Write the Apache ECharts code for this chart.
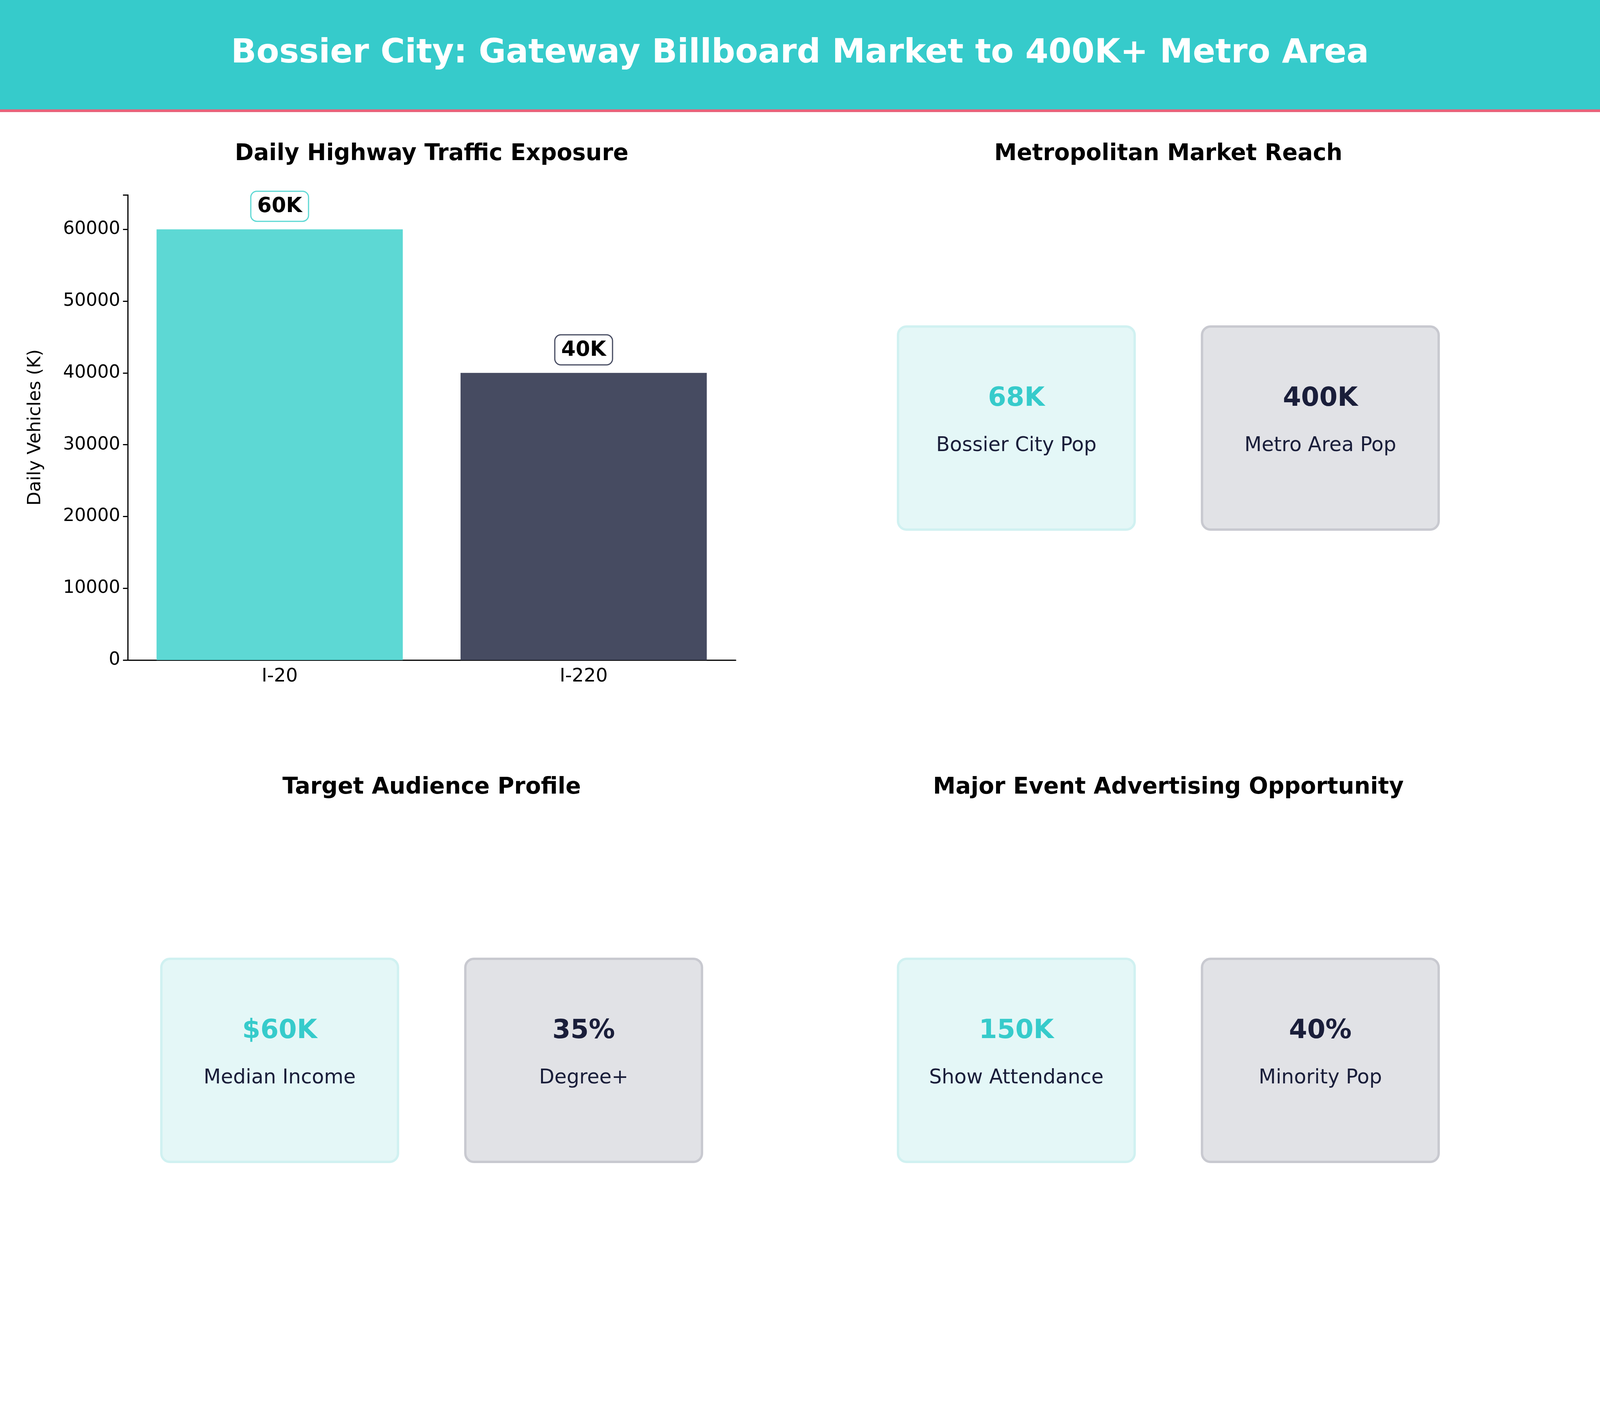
<!DOCTYPE html>
<html><head><meta charset="utf-8">
<script src="https://cdn.jsdelivr.net/npm/echarts@6/dist/echarts.min.js"></script>
<style>html,body{margin:0;padding:0;background:#fff;overflow:hidden}#c{width:100vw;height:100vh}</style>
</head><body><div id="c"></div>
<script>
const mainTitle = 'Bossier City: Gateway Billboard Market to 400K+ Metro Area';
const panelTitles = ['Daily Highway Traffic Exposure','Metropolitan Market Reach','Target Audience Profile','Major Event Advertising Opportunity'];
const highways = ['I-20','I-220'];
const dailyVehicles = [60000, 40000];
const vehicleLabels = ['60K','40K'];
const marketValues = ['68K','400K'];
const marketLabels = ['Bossier City Pop','Metro Area Pop'];
const audienceValues = ['$60K','35%'];
const audienceLabels = ['Median Income','Degree+'];
const eventValues = ['150K','40%'];
const eventLabels = ['Show Attendance','Minority Pop'];

const TEAL='#36CBCB', NAVY='#1A1E3A', BAR1='#5DD8D4', BAR2='#464B61';
const FONT='DejaVu Sans';
const chart = echarts.init(document.getElementById('c'), null, {renderer:'canvas'});
const W = chart.getWidth(), H = chart.getHeight();
const sx = W/4800, sy = H/3600, s = Math.min(sx, sy);
const X = v=>v*sx, Y = v=>v*sy, F = v=>Math.round(v*s);

function cards(values, labels, xs, yTop){
  const els=[];
  values.forEach((v,i)=>{
    const teal = i===0;
    els.push({type:'rect', shape:{x:X(xs[i]), y:Y(yTop), width:X(710), height:Y(520), r:F(26)},
      style:{fill: teal?'#E4F7F7':'#E1E2E6', stroke: teal?'#D0F1F1':'#C8C9D0', lineWidth:F(7)}});
    els.push({type:'text', x:X(xs[i]+355), y:Y(yTop+186), style:{text:v, fill: teal?TEAL:NAVY,
      font:'bold '+F(78)+'px "'+FONT+'"', align:'center', verticalAlign:'middle'}});
    els.push({type:'text', x:X(xs[i]+355), y:Y(yTop+306), style:{text:labels[i], fill:NAVY,
      font:F(60)+'px "'+FONT+'"', align:'center', verticalAlign:'middle'}});
  });
  return els;
}
function ptitle(t,x,y){return {type:'text', x:X(x), y:Y(y), style:{text:t, fill:'#000', font:'bold '+F(68)+'px "'+FONT+'"', align:'center', verticalAlign:'middle'}};}

const graphics = [
  {type:'rect', shape:{x:0,y:0,width:W,height:Y(280)}, style:{fill:TEAL}},
  {type:'rect', shape:{x:0,y:Y(280),width:W,height:Y(7)}, style:{fill:'#E8637A'}},
  {type:'text', x:X(2400), y:Y(138), style:{text:mainTitle, fill:'#fff', font:'bold '+F(100)+'px "'+FONT+'"', align:'center', verticalAlign:'middle'}},
  ptitle(panelTitles[0],1295,395), ptitle(panelTitles[1],3505,395),
  ptitle(panelTitles[2],1295,2017), ptitle(panelTitles[3],3505,2017),
  ...cards(marketValues, marketLabels, [2694,3606], 836),
  ...cards(audienceValues, audienceLabels, [484,1396], 2455),
  ...cards(eventValues, eventLabels, [2694,3606], 2455)
];

chart.setOption({
  animation:false,
  backgroundColor:'#fff',
  textStyle:{fontFamily:FONT},
  graphic:graphics,
  grid:{left:X(383), top:Y(499), width:X(1824), height:Y(1191)},
  xAxis:{type:'category', data:highways,
    axisLine:{lineStyle:{color:'#000', width:F(4)}},
    axisTick:{alignWithLabel:true, length:F(14), lineStyle:{color:'#000', width:F(4)}},
    axisLabel:{color:'#000', fontSize:F(56), margin:F(22), fontFamily:FONT}},
  yAxis:{type:'value', min:0, max:64800, interval:10000,
    name:'Daily Vehicles (K)', nameLocation:'middle', nameGap:F(250), nameRotate:90,
    nameTextStyle:{color:'#000', fontSize:F(54), fontFamily:FONT},
    axisLine:{show:true, lineStyle:{color:'#000', width:F(4)}},
    axisTick:{show:true, length:F(14), lineStyle:{color:'#000', width:F(4)}},
    axisLabel:{color:'#000', fontSize:F(54), margin:F(22), fontFamily:FONT,
      formatter:v=> v%10000===0 ? String(v) : ''},
    splitLine:{show:false}},
  series:[{type:'bar', barCategoryGap:'19%',
    data:dailyVehicles.map((v,i)=>({value:v,
      itemStyle:{color:i===0?BAR1:BAR2},
      label:{show:true, position:'top', distance:F(26), formatter:vehicleLabels[i],
        color:'#000', fontWeight:'bold', fontSize:F(62), fontFamily:FONT,
        backgroundColor:'#fff', borderColor:i===0?BAR1:BAR2, borderWidth:F(4),
        borderRadius:F(16), padding:[F(14),F(18),F(10),F(18)]}}))}]
});
</script></body></html>
